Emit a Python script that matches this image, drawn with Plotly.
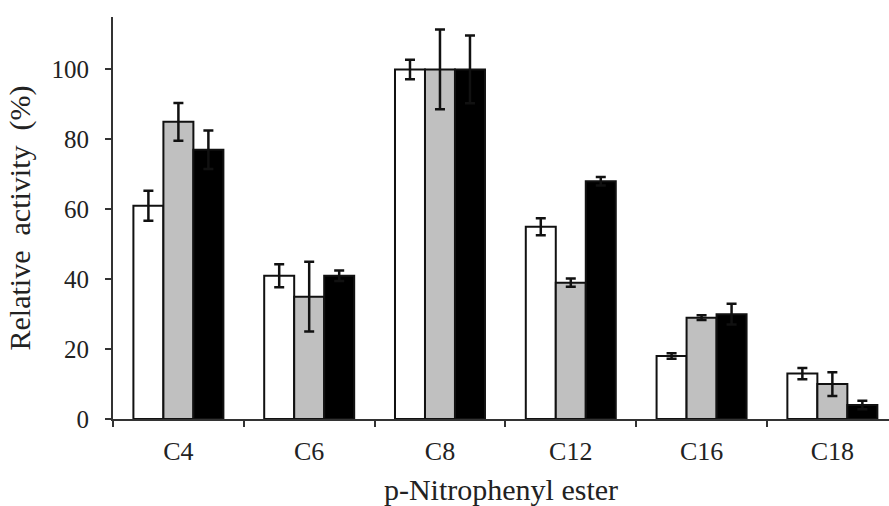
import plotly.graph_objects as go

categories = ["C4", "C6", "C8", "C12", "C16", "C18"]
white_vals = [61, 41, 100, 55, 18, 13]
white_err = [4.3, 3.3, 2.8, 2.4, 0.8, 1.6]
gray_vals = [85, 35, 100, 39, 29, 10]
gray_err = [5.4, 10, 11.4, 1.2, 0.7, 3.4]
black_vals = [77, 41, 100, 68, 30, 4]
black_err = [5.5, 1.5, 9.7, 1.2, 3.0, 1.2]
y_ticks = [0, 20, 40, 60, 80, 100]

fig = go.Figure()
for vals, errs, color in [(white_vals, white_err, "#ffffff"),
                          (gray_vals, gray_err, "#c0c0c0"),
                          (black_vals, black_err, "#000000")]:
    fig.add_trace(go.Bar(
        x=categories, y=vals,
        marker=dict(color=color, line=dict(color="#111111", width=2)),
        error_y=dict(type="data", array=errs, visible=True,
                     color="#111111", thickness=2.5, width=5),
        showlegend=False,
    ))

font_family = "Liberation Serif, Times New Roman, serif"
fig.update_layout(
    template="none",
    width=889, height=506,
    margin=dict(l=113, r=0, t=17, b=87, pad=0),
    paper_bgcolor="white", plot_bgcolor="white",
    barmode="group", bargap=0.312, bargroupgap=0,
    font=dict(family=font_family, size=26, color="#222222"),
    showlegend=False,
)
fig.update_xaxes(
    automargin=False,
    range=[-0.5, 5.433],
    showline=True, linecolor="#333333", linewidth=2,
    ticks="outside", tickson="boundaries", ticklen=6, tickwidth=2, tickcolor="#333333",
    showgrid=False, zeroline=False,
    tickfont=dict(family=font_family, size=26, color="#222222"),
    ticklabelstandoff=8,
    title=dict(text="p-Nitrophenyl ester", standoff=15,
               font=dict(family=font_family, size=30, color="#222222")),
)
fig.update_yaxes(
    automargin=False,
    range=[0, 115],
    tickvals=y_ticks,
    showline=True, linecolor="#333333", linewidth=2,
    ticks="outside", ticklen=6, tickwidth=2, tickcolor="#333333",
    showgrid=False, zeroline=False,
    tickfont=dict(family=font_family, size=25, color="#222222"),
    ticklabelstandoff=11,
    title=dict(text="Relative  activity  (%)", standoff=12,
               font=dict(family=font_family, size=30, color="#222222")),
)

fig.write_html(
    "out.html",
    config={"displayModeBar": False},
    post_script="document.body.style.margin='0';document.body.style.overflow='hidden';",
)
